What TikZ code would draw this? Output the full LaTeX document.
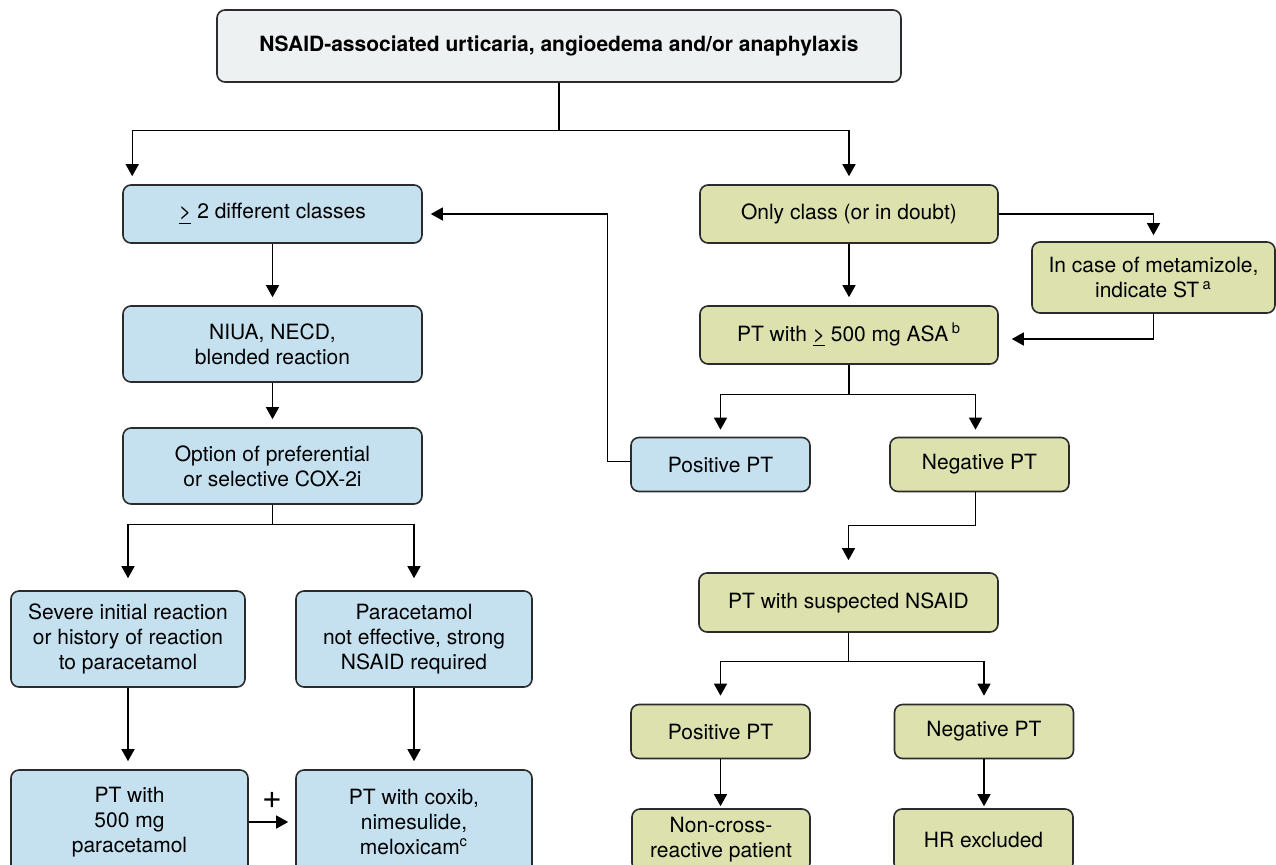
\documentclass[tikz,border=0pt]{standalone}
\usepackage{fontspec}
\setmainfont{TeX Gyre Heros}
\usetikzlibrary{arrows.meta,positioning}
\definecolor{boxblue}{HTML}{C5E1F0}
\definecolor{boxgreen}{HTML}{DCE1AE}
\definecolor{boxgray}{HTML}{EEF1F1}
\definecolor{edgegray}{HTML}{2B2B2B}

\begin{document}
\begin{tikzpicture}[x=0.5pt,y=-0.5pt]
        \tikzstyle{box}=[rectangle, rounded corners=4pt, draw=edgegray, line width=0.8pt, align=center, inner sep=0pt, font=\fontsize{10.5}{12.5}\selectfont]
        \tikzstyle{bluebox}=[box, fill=boxblue]
        \tikzstyle{greenbox}=[box, fill=boxgreen]
        \tikzstyle{connect}=[-{Triangle[width=6.5pt,length=6pt]}, line width=0.65pt, draw=black, shorten >=4pt]
        \useasboundingbox (0,0) rectangle (1276,864);
        \clip (0,0) rectangle (1276,864);
        % header
        \node[box, fill=boxgray, minimum width=342pt, minimum height=36pt, font=\fontsize{10.5}{12.5}\selectfont\bfseries] (head) at (559,46) {NSAID-associated urticaria, angioedema and/or anaphylaxis};
        % left column
        \node[bluebox, minimum width=149.5pt, minimum height=29pt] (multi) at (272.5,214) {\underline{>} 2 different classes};
        \node[bluebox, minimum width=149.5pt, minimum height=38pt] (niua) at (272.5,344) {NIUA, NECD,\\blended reaction};
        \node[bluebox, minimum width=149.5pt, minimum height=38pt] (option) at (272.5,466) {Option of preferential\\or selective COX-2i};
        \node[bluebox, minimum width=117pt, minimum height=48pt] (severe) at (128,639) {Severe initial reaction\\or history of reaction\\to paracetamol};
        \node[bluebox, minimum width=118pt, minimum height=48pt] (ineff) at (414,639) {Paracetamol\\not effective, strong\\NSAID required};
        \node[bluebox, minimum width=118.5pt, minimum height=52pt] (pt500) at (129.5,822) {PT with\\500 mg\\paracetamol};
        \node[bluebox, minimum width=118pt, minimum height=52pt] (coxib) at (414,822) {PT with coxib,\\nimesulide,\\meloxicam\textsuperscript{c}};
        \node[font=\fontsize{17}{17}\selectfont] (plus) at (272,800) {+};
        % right column
        \node[greenbox, minimum width=149pt, minimum height=29pt] (only) at (849,214) {Only class (or in doubt)};
        \node[greenbox, minimum width=121.5pt, minimum height=35.5pt] (meta) at (1153.5,277.5) {In case of metamizole,\\indicate ST\,\textsuperscript{a}};
        \node[greenbox, minimum width=149pt, minimum height=29pt] (ptasa) at (849,335) {PT with \underline{>} 500 mg ASA\,\textsuperscript{b}};
        \node[bluebox, minimum width=89.5pt, minimum height=27pt] (pos1) at (720.5,464.5) {Positive PT};
        \node[greenbox, minimum width=89.5pt, minimum height=27pt] (neg1) at (979.5,464.5) {Negative PT};
        \node[greenbox, minimum width=149.5pt, minimum height=29.5pt] (susp) at (848.5,602.5) {PT with suspected NSAID};
        \node[greenbox, minimum width=89.5pt, minimum height=27pt] (pos2) at (720.5,731.5) {Positive PT};
        \node[greenbox, minimum width=89.5pt, minimum height=27pt] (neg2) at (984,731.5) {Negative PT};
        \node[greenbox, minimum width=89pt, minimum height=31pt] (noncross) at (721,840) {Non-cross-\\reactive patient};
        \node[greenbox, minimum width=89.5pt, minimum height=31pt] (hrex) at (983.5,840) {HR excluded};
        % connectors
        \draw[connect] (head.south) -- ++(0,48) -| ([xshift=5pt]multi.north west);
        \draw[connect] (head.south) -- ++(0,48) -| (only.north);
        \draw[connect] (multi) -- (niua);
        \draw[connect] (niua) -- (option);
        \draw[connect, shorten >=6pt] (option.south) -- ++(0,20) -| (severe.north);
        \draw[connect, shorten >=6pt] (option.south) -- ++(0,20) -| (ineff.north);
        \draw[connect] (severe.south) -- (severe.south |- pt500.north);
        \draw[connect] (ineff) -- (coxib);
        \draw[connect, shorten >=3.5pt] (pt500.east) -- (coxib.west);
        \draw[connect] (only) -- (ptasa);
        \draw[connect, shorten >=3pt] (only.east) -| (meta.north);
        \draw[connect, shorten >=6.5pt] (meta.south) |- ([yshift=-2pt]ptasa.east);
        \draw[connect, shorten >=3.5pt] (ptasa.south) -- ++(0,30) -| (pos1.north);
        \draw[connect, shorten >=3.5pt] (ptasa.south) -- ++(0,30) -| ([xshift=-2pt]neg1.north);
        \draw[connect] ([yshift=1.5pt]pos1.west) -- ++(-23,0) |- (multi.east);
        \draw[connect, shorten >=6pt] ([xshift=-2pt]neg1.south) -- ++(0,33) -| (susp.north);
        \draw[connect] (susp.south) -- ++(0,29) -| (pos2.north);
        \draw[connect] (susp.south) -- ++(0,29) -| (neg2.north);
        \draw[connect, shorten >=1pt] (pos2.south) -- (pos2.south |- noncross.north);
        \draw[connect, shorten >=1pt] (neg2.south) -- (neg2.south |- hrex.north);
\end{tikzpicture}
\end{document}
